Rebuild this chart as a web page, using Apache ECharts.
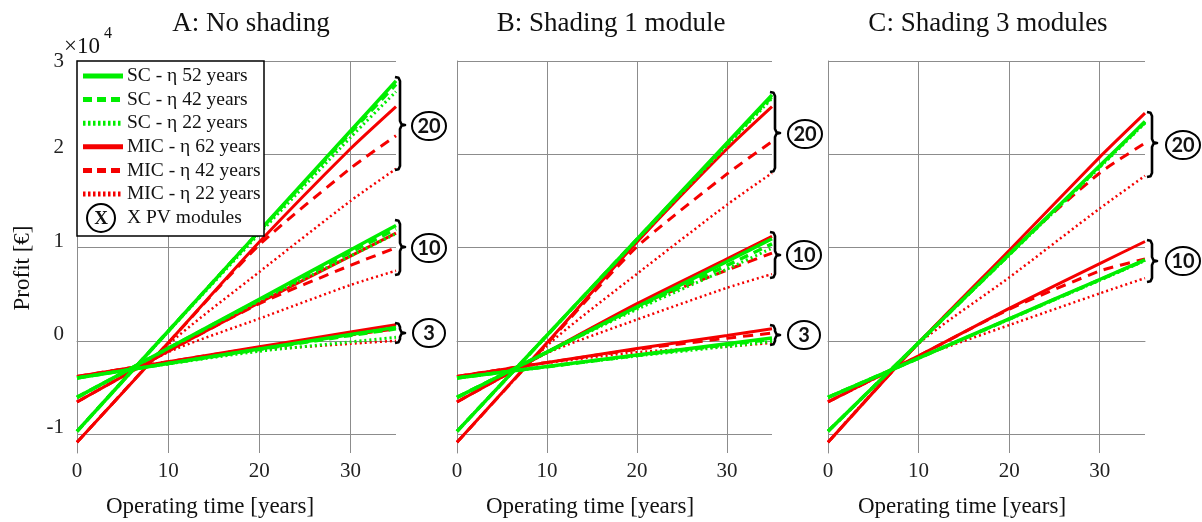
<!DOCTYPE html>
<html><head><meta charset="utf-8">
<script src="https://cdn.jsdelivr.net/npm/echarts@6/dist/echarts.min.js"></script>
<style>html,body{margin:0;padding:0;background:#fff}#c{width:1202px;height:522px}</style>
</head><body><div id="c"></div>
<script>
// ---------- DATA (profit in 10^4 €) ----------
const years = [0, 10, 20, 30, 35];           // operating time [years]
const moduleGroups = ['20', '10', '3'];      // number of PV modules
// each array: [20 modules, 10 modules, 3 modules], values at the years above
const A_SC52  = [[-0.968, 0.105, 1.178, 2.25, 2.787], [-0.604, -0.078, 0.448, 0.975, 1.238], [-0.396, -0.241, -0.086, 0.069, 0.146]];
const A_SC42  = [[-0.968, 0.105, 1.175, 2.23, 2.75], [-0.604, -0.08, 0.44, 0.95, 1.20], [-0.396, -0.242, -0.09, 0.06, 0.13]];
const A_SC22  = [[-0.968, 0.10, 1.15, 2.18, 2.672], [-0.604, -0.08, 0.43, 0.91, 1.15], [-0.396, -0.245, -0.11, -0.01, 0.039]];
const A_MIC62 = [[-1.086, -0.02, 1.06, 2.06, 2.512], [-0.653, -0.11, 0.41, 0.91, 1.156], [-0.379, -0.221, -0.062, 0.096, 0.175]];
const A_MIC42 = [[-1.086, -0.02, 1.03, 1.85, 2.20], [-0.653, -0.11, 0.40, 0.81, 1.0], [-0.379, -0.222, -0.07, 0.065, 0.13]];
const A_MIC22 = [[-1.086, -0.04, 0.74, 1.50, 1.845], [-0.653, -0.12, 0.24, 0.60, 0.753], [-0.379, -0.225, -0.10, -0.03, 0.003]];
const B_SC52  = [[-0.968, 0.062, 1.092, 2.122, 2.637], [-0.604, -0.119, 0.367, 0.852, 1.095], [-0.396, -0.274, -0.151, -0.029, 0.032]];
const B_SC42  = [[-0.968, 0.06, 1.09, 2.11, 2.62], [-0.604, -0.12, 0.36, 0.81, 1.04], [-0.396, -0.275, -0.155, -0.04, 0.02]];
const B_SC22  = [[-0.968, 0.06, 1.085, 2.095, 2.60], [-0.604, -0.12, 0.34, 0.77, 0.995], [-0.396, -0.276, -0.16, -0.06, -0.005]];
const B_MIC62 = [[-1.086, -0.02, 1.06, 2.06, 2.512], [-0.653, -0.12, 0.40, 0.88, 1.12], [-0.379, -0.23, -0.08, 0.06, 0.132]];
const B_MIC42 = [[-1.086, -0.03, 1.01, 1.79, 2.137], [-0.653, -0.12, 0.38, 0.76, 0.942], [-0.379, -0.23, -0.09, 0.03, 0.085]];
const B_MIC22 = [[-1.086, -0.05, 0.72, 1.46, 1.80], [-0.653, -0.13, 0.23, 0.57, 0.717], [-0.379, -0.235, -0.12, -0.06, -0.02]];
const C_SC52  = [[-0.968, -0.02, 0.929, 1.877, 2.351], [-0.604, -0.183, 0.238, 0.659, 0.87]];
const C_SC42  = [[-0.968, -0.02, 0.925, 1.87, 2.345], [-0.604, -0.184, 0.235, 0.655, 0.865]];
const C_SC22  = [[-0.968, -0.02, 0.92, 1.86, 2.335], [-0.604, -0.185, 0.232, 0.65, 0.86]];
const C_MIC62 = [[-1.086, -0.02, 0.97, 1.97, 2.441], [-0.653, -0.16, 0.35, 0.83, 1.066]];
const C_MIC42 = [[-1.086, -0.02, 0.95, 1.80, 2.12], [-0.653, -0.16, 0.34, 0.75, 0.878]];
const C_MIC22 = [[-1.086, -0.03, 0.68, 1.42, 1.77], [-0.653, -0.18, 0.17, 0.51, 0.674]];
const panelTitles = ['A: No shading', 'B: Shading 1 module', 'C: Shading 3 modules'];
const legendLabels = ['SC - η 52 years', 'SC - η 42 years', 'SC - η 22 years',
                      'MIC - η 62 years', 'MIC - η 42 years', 'MIC - η 22 years'];
const xTickStep = 10;
const yMin = -1.2, yMax = 3;   // ×10^4

// ---------- STYLE / LAYOUT ----------
const GREEN = '#00ee00', RED = '#f50000';
const SERIF = "'Liberation Serif','Times New Roman',serif";
const grids = [
  {left: 77, top: 61, width: 319, height: 392},
  {left: 457, top: 61, width: 315, height: 392},
  {left: 828, top: 61, width: 317, height: 392}
];
const variants = [
  {name: legendLabels[3], data: [A_MIC62, B_MIC62, C_MIC62], color: RED, width: 3, type: 'solid'},
  {name: legendLabels[4], data: [A_MIC42, B_MIC42, C_MIC42], color: RED, width: 3, type: [10, 7]},
  {name: legendLabels[5], data: [A_MIC22, B_MIC22, C_MIC22], color: RED, width: 2.5, type: [2, 3]},
  {name: legendLabels[0], data: [A_SC52, B_SC52, C_SC52], color: GREEN, width: 3.5, type: 'solid'},
  {name: legendLabels[1], data: [A_SC42, B_SC42, C_SC42], color: GREEN, width: 3.5, type: [9, 6]},
  {name: legendLabels[2], data: [A_SC22, B_SC22, C_SC22], color: GREEN, width: 3, type: [2, 3]}
];

const series = [];
for (let p = 0; p < 3; p++) {
  variants.forEach(v => {
    v.data[p].forEach((vals, g) => {
      series.push({
        type: 'line', name: v.name + ' ' + moduleGroups[g], xAxisIndex: p, yAxisIndex: p,
        data: vals.map((val, k) => [years[k], val]),
        showSymbol: false, symbol: 'none', silent: true, animation: false, smooth: 0.2,
        lineStyle: {color: v.color, width: v.width, type: v.type, cap: 'butt'}
      });
    });
  });
}

const gridColor = '#8c8c8c';
const xAxes = grids.map((g, i) => ({
  type: 'value', gridIndex: i, min: years[0], max: years[years.length - 1], interval: xTickStep,
  axisLine: {show: true, lineStyle: {color: gridColor, width: 1}},
  axisTick: {show: false},
  axisLabel: {fontFamily: SERIF, fontSize: 21, color: '#222', margin: 8, showMaxLabel: false},
  splitLine: {show: true, showMaxLine: false, lineStyle: {color: gridColor, width: 1}}
}));
const yAxes = grids.map((g, i) => ({
  type: 'value', gridIndex: i, min: yMin, max: yMax,
  axisLine: {show: true, onZero: false, lineStyle: {color: gridColor, width: 1}},
  axisTick: {show: false},
  axisLabel: {
    show: i === 0, showMinLabel: false, margin: 13, fontFamily: SERIF, fontSize: 21, color: '#222',
    formatter: v => (Math.abs(v - Math.round(v)) > 1e-6) ? '' : (Math.round(v) === 3 ? '{t|3}' : '{n|' + Math.round(v) + '}'),
    rich: {t: {fontFamily: SERIF, fontSize: 21, color: '#222'},
           n: {fontFamily: SERIF, fontSize: 21, color: '#222', padding: [0, 0, 13, 0]}}
  },
  splitLine: {show: true, showMinLine: false, lineStyle: {color: gridColor, width: 1}}
}));

// ---------- GRAPHICS (titles, labels, legend, brackets) ----------
const gfx = [];
function txt(x, y, text, font, align, extra) {
  gfx.push(Object.assign({type: 'text', x: x, y: y, z: 100, silent: true,
    style: {text: text, font: font, fill: '#111', textAlign: align || 'center', align: align || 'center',
            textVerticalAlign: 'middle', verticalAlign: 'middle'}}, extra || {}));
}
const titleX = [251, 611, 988];
panelTitles.forEach((t, i) => txt(titleX[i], 24, t, '27px ' + SERIF));
[210, 590, 962].forEach(x => txt(x, 507, 'Operating time [years]', '23px ' + SERIF));
txt(23, 268, 'Profit [€]', '23px ' + SERIF, 'center', {rotation: Math.PI / 2});
txt(64, 47, '×10', '23px ' + SERIF, 'left');
txt(104, 34, '4', '16px ' + SERIF, 'left');

function bracket(x, top, mid, bot) {
  gfx.push({type: 'polyline', z: 100, silent: true,
    shape: {points: [[x - 5, top], [x - 1.5, top + 0.8], [x, top + 4], [x, mid - 4], [x + 1.5, mid - 0.8], [x + 5, mid],
                     [x + 1.5, mid + 0.8], [x, mid + 4], [x, bot - 4], [x - 1.5, bot - 0.8], [x - 5, bot]]},
    style: {stroke: '#000', lineWidth: 2.6, fill: null, lineJoin: 'round'}});
}
function circled(cx, cy, label, rx) {
  gfx.push({type: 'ellipse', z: 100, silent: true, shape: {cx: cx, cy: cy, rx: rx, ry: 14},
    style: {stroke: '#000', lineWidth: 2, fill: '#fff'}});
  txt(cx, cy + 1, label, 'bold 20px Lato, sans-serif');
}
// panel A
bracket(400, 77, 125, 170); circled(429, 126, '20', 17);
bracket(400, 220, 247, 275); circled(429, 248, '10', 17);
bracket(400, 323, 333, 343); circled(429, 333, '3', 16);
// panel B
bracket(775, 92, 133, 172); circled(805, 134, '20', 17);
bracket(775, 232, 255, 278); circled(804, 255, '10', 17);
bracket(775, 325, 335, 345); circled(804, 335, '3', 16);
// panel C
bracket(1152, 112, 143, 177); circled(1183, 145, '20', 17);
bracket(1152, 240, 261, 282); circled(1183, 261, '10', 17);

// legend
gfx.push({type: 'rect', z: 99, silent: true, shape: {x: 77, y: 61, width: 187, height: 175},
  style: {fill: '#fff', stroke: '#000', lineWidth: 1.5}});
const legStyles = [variants[3], variants[4], variants[5], variants[0], variants[1], variants[2]];
legStyles.forEach((v, i) => {
  const y = 76 + i * 23.6;
  gfx.push({type: 'line', z: 100, silent: true, shape: {x1: 83, y1: y, x2: 123, y2: y},
    style: {stroke: v.color, lineWidth: 5, lineDash: v.type === 'solid' ? null : (v.type[0] === 2 ? [2.5, 2.5] : [9, 5])}});
  txt(127, y, legendLabels[i], '19.5px ' + SERIF, 'left');
});
gfx.push({type: 'ellipse', z: 100, silent: true, shape: {cx: 101, cy: 218, rx: 14, ry: 14},
  style: {stroke: '#000', lineWidth: 2, fill: '#fff'}});
txt(101, 219, 'X', 'bold 19px ' + SERIF);
txt(127, 218, 'X PV modules', '19.5px ' + SERIF, 'left');

const chart = echarts.init(document.getElementById('c'), null, {renderer: 'canvas'});
chart.setOption({
  animation: false,
  backgroundColor: '#fff',
  grid: grids,
  xAxis: xAxes,
  yAxis: yAxes,
  series: series,
  graphic: gfx
});
</script></body></html>
